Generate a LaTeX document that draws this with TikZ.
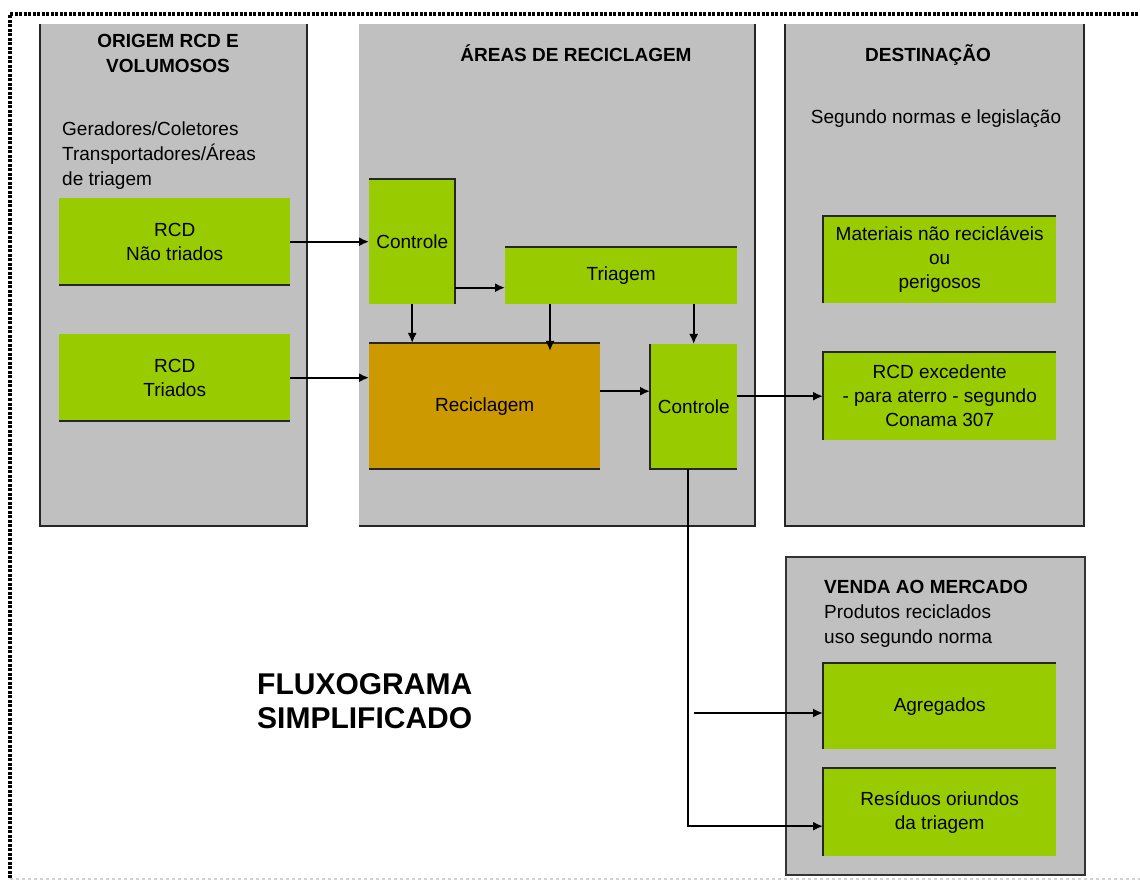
\documentclass[tikz,border=0pt]{standalone}
\usepackage{fontspec}
\setmainfont{Liberation Sans}
\usetikzlibrary{arrows.meta, positioning}
\definecolor{panelgray}{HTML}{C0C0C0}
\definecolor{boxgreen}{HTML}{99CC00}
\definecolor{boxorange}{HTML}{CC9900}
\tikzset{
  panel/.style={
    rectangle,
    anchor=north west,
    inner sep=0pt,
    fill=panelgray
  },
  stepbox/.style={
    rectangle,
    anchor=north west,
    inner sep=0pt,
    align=center,
    fill=boxgreen,
    font=\fontsize{19}{24}\selectfont
  },
  recbox/.style={
    stepbox,
    fill=boxorange
  },
  title/.style={
    inner sep=0pt,
    align=center,
    font=\bfseries\fontsize{19}{25}\selectfont
  },
  note/.style={
    inner sep=0pt,
    align=left,
    font=\fontsize{19}{25}\selectfont
  },
  edge/.style={line width=2pt, draw=black!85},
  arrow/.style={line width=1.8pt,-{Latex[length=10pt,width=9pt]}}
}
\begin{document}
\begin{tikzpicture}[x=1pt,y=-1pt]
    \useasboundingbox (0,0) rectangle (1140,882);
    % frame
    \draw[line width=3.5pt, dash pattern=on 3pt off 1.5pt] (10,878) -- (10,14) -- (1140,14);
    \draw[gray!35, line width=1.2pt, dashed] (10,879) -- (1140,879);
    % panels
    \node (origem) [panel, minimum width=267pt, minimum height=502pt] at (40,24) {};
    \node (areas) [panel, minimum width=396pt, minimum height=502pt] at (359,24) {};
    \node (dest) [panel, minimum width=299pt, minimum height=502pt] at (785,24) {};
    \node (venda) [panel, draw=black!80, line width=2pt, minimum width=299pt, minimum height=318pt] at (785,556) {};
    \draw[edge] (origem.north west) -- (origem.south west) -- (origem.south east) -- (origem.north east);
    \draw[edge] (areas.south west) -- (areas.south east) -- (areas.north east);
    \draw[edge] (dest.north west) -- (dest.south west) -- (dest.south east) -- (dest.north east);
    % titles
    \node (origtitle) [title, anchor=north] at (168,34) {ORIGEM RCD E\\VOLUMOSOS};
    \node (gerad) [note, anchor=north west] at (62,122) {Geradores/Coletores\\Transportadores/Áreas\\de triagem};
    \node (areastitle) [title, anchor=base] at (576,62) {ÁREAS DE RECICLAGEM};
    \node (desttitle) [title, anchor=base] at (928,62) {DESTINAÇÃO};
    \node (normas) [note, anchor=base] at (936,124) {Segundo normas e legislação};
    \node (vendatitle) [title, anchor=base west] at (824,593) {VENDA AO MERCADO};
    \node (produtos) [note, anchor=north west] at (824,605) {Produtos reciclados\\uso segundo norma};
    \node (fluxo) [title, anchor=north west, align=left, font=\bfseries\fontsize{30}{34}\selectfont] at (257,673) {FLUXOGRAMA\\SIMPLIFICADO};
    % boxes
    \node (rcdn) [stepbox, minimum width=231pt, minimum height=87pt] at (59,198) {RCD\\Não triados};
    \node (rcdt) [stepbox, minimum width=231pt, minimum height=87pt] at (59,334) {RCD\\Triados};
    \node (ctrl1) [stepbox, minimum width=86pt, minimum height=125pt] at (369,179) {Controle};
    \node (triagem) [stepbox, minimum width=232pt, minimum height=57pt] at (505,247) {Triagem};
    \node (recic) [recbox, minimum width=231pt, minimum height=126pt] at (369,343) {Reciclagem};
    \node (ctrl2) [stepbox, minimum width=87pt, minimum height=125pt] at (650,344) {Controle};
    \node (mat) [stepbox, minimum width=233pt, minimum height=87pt] at (823,216) {Materiais não recicláveis\\ou\\perigosos};
    \node (exced) [stepbox, minimum width=233pt, minimum height=88pt] at (823,352) {RCD excedente\\- para aterro - segundo\\Conama 307};
    \node (agreg) [stepbox, minimum width=233pt, minimum height=86pt] at (823,663) {Agregados};
    \node (resid) [stepbox, minimum width=233pt, minimum height=88pt] at (823,768) {Resíduos oriundos\\da triagem};
    % box edges
    \draw[edge] (rcdn.south west) -- (rcdn.south east);
    \draw[edge] (rcdt.south west) -- (rcdt.south east);
    \draw[edge] (ctrl1.north west) -- (ctrl1.north east) -- (ctrl1.south east);
    \draw[edge] (triagem.north west) -- (triagem.north east);
    \draw[edge] (recic.north west) -- (recic.north east);
    \draw[edge] (recic.south west) -- (recic.south east);
    \draw[edge] (ctrl2.north west) -- (ctrl2.south west) -- (ctrl2.south east);
    \draw[edge] (mat.south west) -- (mat.north west) -- (mat.north east);
    \draw[edge] (exced.south west) -- (exced.north west) -- (exced.north east);
    \draw[edge] (agreg.south west) -- (agreg.north west) -- (agreg.north east);
    \draw[edge] (resid.south west) -- (resid.north west) -- (resid.north east);
    % flow
    \draw[arrow] (rcdn.east) -- (ctrl1.west);
    \draw[arrow] (rcdt.east) -- (rcdt.east -| recic.west);
    \draw[arrow] ([yshift=-12pt]triagem.west -| ctrl1.east) -- ([yshift=-12pt]triagem.west);
    \draw[arrow] (ctrl1.south) -- (ctrl1.south |- recic.north);
    \draw[arrow] ([xshift=45pt]triagem.south west) -- ([xshift=45pt,yshift=-8pt]triagem.south west |- recic.north);
    \draw[arrow] (triagem.south -| ctrl2.north) -- (ctrl2.north);
    \draw[arrow] ([yshift=15pt]recic.east) -- ([yshift=15pt]recic.east -| ctrl2.west);
    \draw[arrow] (exced.west -| ctrl2.east) -- (exced.west);
    \draw[arrow] ([xshift=-6pt]ctrl2.south) |- ([yshift=-14pt]resid.west);
    \coordinate (split) at (694,713);
    \draw[arrow] (split) -- (split -| agreg.west);
\end{tikzpicture}
\end{document}
